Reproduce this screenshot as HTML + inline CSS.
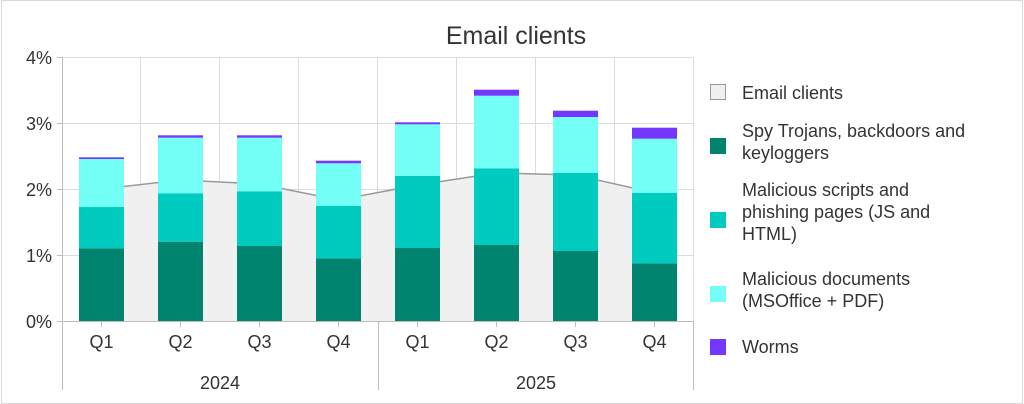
<!DOCTYPE html>
<html><head><meta charset="utf-8"><style>
html,body{margin:0;padding:0;background:#fff}
svg{display:block;font-family:"Liberation Sans",sans-serif}
</style></head><body>
<svg width="1024" height="404" viewBox="0 0 1024 404" xmlns="http://www.w3.org/2000/svg">
<rect x="1.5" y="0.5" width="1021" height="403" fill="#fff" stroke="#d9d9d9"/>
<text x="516" y="44" font-size="25" text-anchor="middle" fill="#333">Email clients</text>
<!-- grid -->
<g stroke="#dcdcdc" stroke-width="1">
<line x1="62" y1="57.5" x2="694" y2="57.5"/>
<line x1="62" y1="123.5" x2="694" y2="123.5"/>
<line x1="62" y1="189.5" x2="694" y2="189.5"/>
<line x1="62" y1="255.5" x2="694" y2="255.5"/>
<line x1="140.5" y1="57" x2="140.5" y2="321"/>
<line x1="219.5" y1="57" x2="219.5" y2="321"/>
<line x1="298.5" y1="57" x2="298.5" y2="321"/>
<line x1="377.5" y1="57" x2="377.5" y2="321"/>
<line x1="456.5" y1="57" x2="456.5" y2="321"/>
<line x1="535.5" y1="57" x2="535.5" y2="321"/>
<line x1="614.5" y1="57" x2="614.5" y2="321"/>
<line x1="693.5" y1="57" x2="693.5" y2="321"/>
</g>
<!-- area -->
<path d="M101.5,321 L101.5,189 L180.5,180 L259.5,184 L338.5,200 L417.5,185 L496.5,173 L575.5,175 L654.5,193 L654.5,321 Z" fill="#f0f0f0"/>
<path d="M101.5,189 L180.5,180 L259.5,184 L338.5,200 L417.5,185 L496.5,173 L575.5,175 L654.5,193" fill="none" stroke="#999" stroke-width="1.5"/>
<!-- bars -->
<g>
<!-- x, dark top, teal top, light top, purple top -->
<rect x="79" y="248.3" width="45" height="73" fill="#00836f"/>
<rect x="79" y="207" width="45" height="41.3" fill="#00cbbf"/>
<rect x="79" y="159" width="45" height="48" fill="#73fff5"/>
<rect x="79" y="157.3" width="45" height="1.7" fill="#7437ff"/>

<rect x="158" y="241.7" width="45" height="79.6" fill="#00836f"/>
<rect x="158" y="193.3" width="45" height="48.4" fill="#00cbbf"/>
<rect x="158" y="137.7" width="45" height="55.6" fill="#73fff5"/>
<rect x="158" y="135.3" width="45" height="2.4" fill="#7437ff"/>

<rect x="237" y="246" width="45" height="75.3" fill="#00836f"/>
<rect x="237" y="191.3" width="45" height="54.7" fill="#00cbbf"/>
<rect x="237" y="137.7" width="45" height="53.6" fill="#73fff5"/>
<rect x="237" y="135.3" width="45" height="2.4" fill="#7437ff"/>

<rect x="316" y="258.3" width="45" height="63" fill="#00836f"/>
<rect x="316" y="206" width="45" height="52.3" fill="#00cbbf"/>
<rect x="316" y="163.3" width="45" height="42.7" fill="#73fff5"/>
<rect x="316" y="160.7" width="45" height="2.6" fill="#7437ff"/>

<rect x="395" y="248" width="45" height="73.3" fill="#00836f"/>
<rect x="395" y="176" width="45" height="72" fill="#00cbbf"/>
<rect x="395" y="124.3" width="45" height="51.7" fill="#73fff5"/>
<rect x="395" y="122.3" width="45" height="2" fill="#7437ff"/>

<rect x="474" y="245" width="45" height="76.3" fill="#00836f"/>
<rect x="474" y="168.3" width="45" height="76.7" fill="#00cbbf"/>
<rect x="474" y="95.7" width="45" height="72.6" fill="#73fff5"/>
<rect x="474" y="89.7" width="45" height="6" fill="#7437ff"/>

<rect x="553" y="251" width="45" height="70.3" fill="#00836f"/>
<rect x="553" y="173" width="45" height="78" fill="#00cbbf"/>
<rect x="553" y="117" width="45" height="56" fill="#73fff5"/>
<rect x="553" y="110.7" width="45" height="6.3" fill="#7437ff"/>

<rect x="632" y="263.3" width="45" height="58" fill="#00836f"/>
<rect x="632" y="193" width="45" height="70.3" fill="#00cbbf"/>
<rect x="632" y="138.7" width="45" height="54.3" fill="#73fff5"/>
<rect x="632" y="127.7" width="45" height="11" fill="#7437ff"/>
</g>
<!-- axes -->
<g stroke="#bdbdbd" stroke-width="1">
<line x1="62.5" y1="57" x2="62.5" y2="390"/>
<line x1="57" y1="57.5" x2="62" y2="57.5"/>
<line x1="57" y1="123.5" x2="62" y2="123.5"/>
<line x1="57" y1="189.5" x2="62" y2="189.5"/>
<line x1="57" y1="255.5" x2="62" y2="255.5"/>
<line x1="57" y1="321.5" x2="694" y2="321.5"/>
<line x1="378.5" y1="321" x2="378.5" y2="390"/>
<line x1="693.5" y1="321" x2="693.5" y2="390"/>
<line x1="101.5" y1="321" x2="101.5" y2="327"/>
<line x1="180.5" y1="321" x2="180.5" y2="327"/>
<line x1="259.5" y1="321" x2="259.5" y2="327"/>
<line x1="338.5" y1="321" x2="338.5" y2="327"/>
<line x1="417.5" y1="321" x2="417.5" y2="327"/>
<line x1="496.5" y1="321" x2="496.5" y2="327"/>
<line x1="575.5" y1="321" x2="575.5" y2="327"/>
<line x1="654.5" y1="321" x2="654.5" y2="327"/>
</g>
<g font-size="18" fill="#333" text-anchor="end">
<text x="52" y="64">4%</text>
<text x="52" y="130">3%</text>
<text x="52" y="196">2%</text>
<text x="52" y="262">1%</text>
<text x="52" y="328">0%</text>
</g>
<g font-size="18" fill="#333" text-anchor="middle">
<text x="101.5" y="348">Q1</text>
<text x="180.5" y="348">Q2</text>
<text x="259.5" y="348">Q3</text>
<text x="338.5" y="348">Q4</text>
<text x="417.5" y="348">Q1</text>
<text x="496.5" y="348">Q2</text>
<text x="575.5" y="348">Q3</text>
<text x="654.5" y="348">Q4</text>
<text x="220" y="389">2024</text>
<text x="536" y="389">2025</text>
</g>
<!-- legend -->
<rect x="710.5" y="84.5" width="15" height="15" fill="#f0f0f0" stroke="#999"/>
<rect x="710" y="138" width="16" height="16" fill="#00836f"/>
<rect x="710" y="212" width="16" height="16" fill="#00cbbf"/>
<rect x="710" y="286" width="16" height="16" fill="#73fff5"/>
<rect x="710" y="339" width="16" height="16" fill="#7437ff"/>
<g font-size="18" fill="#333">
<text x="742" y="99">Email clients</text>
<text x="742" y="137">Spy Trojans, backdoors and</text>
<text x="742" y="159">keyloggers</text>
<text x="742" y="196">Malicious scripts and</text>
<text x="742" y="218">phishing pages (JS and</text>
<text x="742" y="240">HTML)</text>
<text x="742" y="285">Malicious documents</text>
<text x="742" y="307">(MSOffice + PDF)</text>
<text x="742" y="353">Worms</text>
</g>
</svg>
</body></html>
